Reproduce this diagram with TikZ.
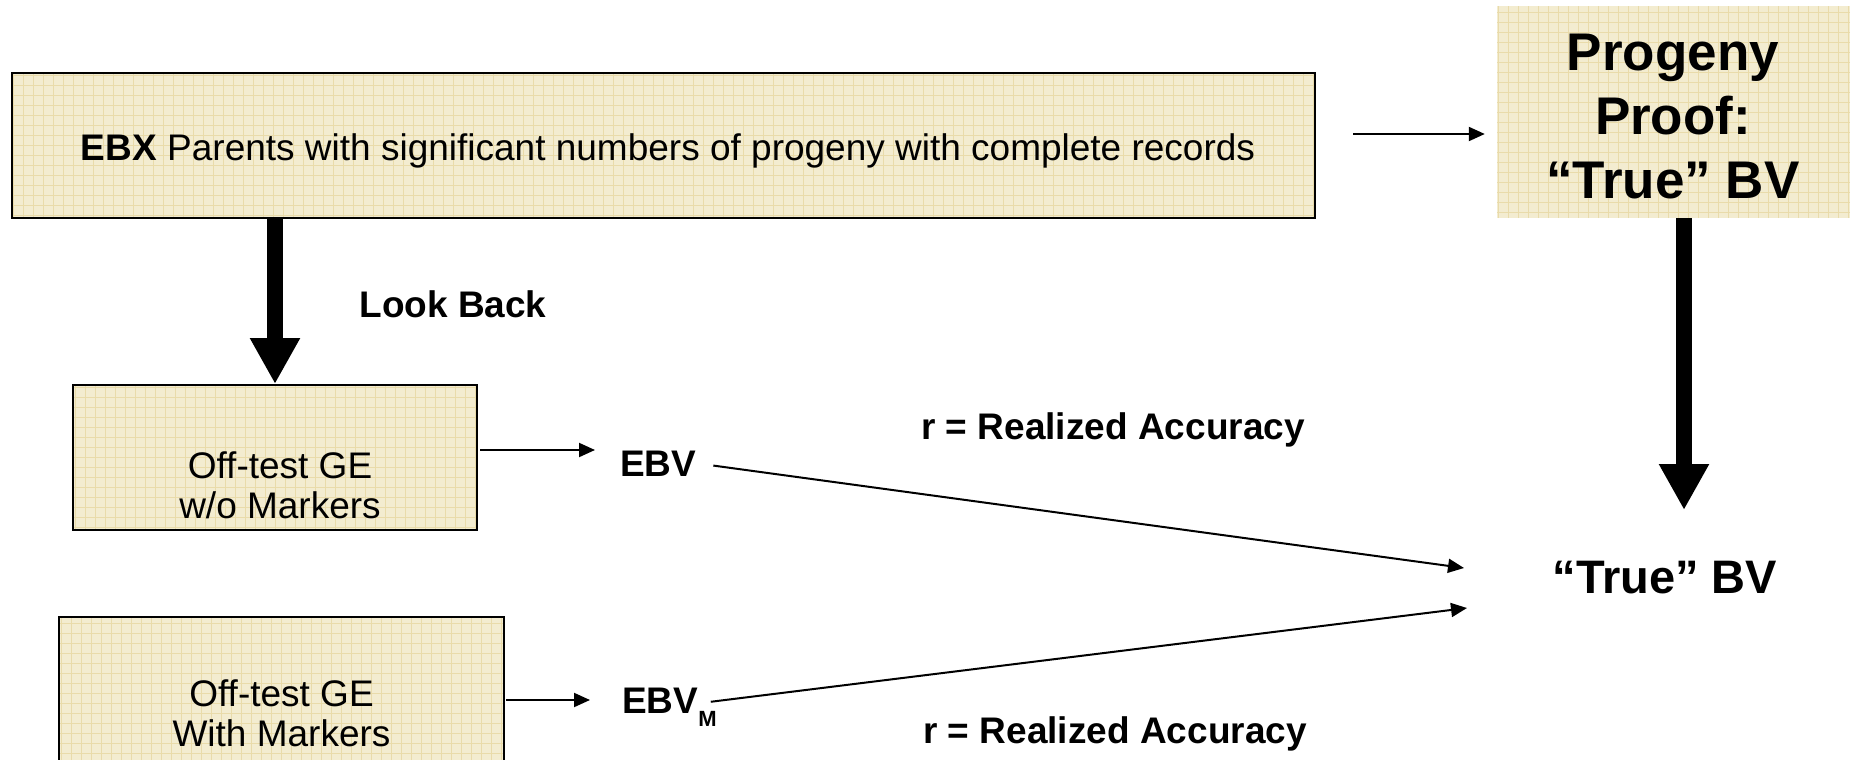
\documentclass[tikz,border=0pt]{standalone}
\usepackage{fontspec}
\setmainfont{Liberation Sans}
\usetikzlibrary{arrows.meta,calc}
\definecolor{boxfill}{RGB}{243,236,208}
\definecolor{gridc}{RGB}{233,219,170}
\begin{document}
\begin{tikzpicture}[x=1pt,y=-1pt,
  panel/.style={fill=boxfill, inner sep=0pt,
    path picture={\draw[gridc,line width=0.9pt] (path picture bounding box.south west) grid[step=10pt] (path picture bounding box.north east);}},
  framed/.style={draw=black, line width=2pt},
  lbl/.style={font=\bfseries\fontsize{37}{40}\selectfont, inner sep=0pt},
  boxtxt/.style={font=\fontsize{37}{40}\selectfont, inner sep=0pt, align=center},
  thinarrow/.style={line width=2pt, -{Triangle[length=16pt,width=14pt]}},
  fatarrow/.style={line width=16pt, -{Triangle[length=46pt,width=47pt]}}]
\useasboundingbox (0,0) rectangle (1850,760);

% boxes
\node[panel, framed, minimum width=1303pt, minimum height=145pt] (top) at (663.5,145.5) {};
\node[panel, minimum width=363pt, minimum height=212pt] (prog) at (1678.5,112) {};
\node[panel, framed, minimum width=404pt, minimum height=145pt] (b2) at (275,457.5) {};
\node[panel, framed, minimum width=445pt, minimum height=213pt] (b3) at (281.5,723.5) {};

% texts
\node[font=\fontsize{37}{40}\selectfont, inner sep=0pt, anchor=base] (topt) at (668,160)
  {\textbf{EBX} Parents with significant numbers of progeny with complete records};
\node[font=\bfseries\fontsize{53}{64}\selectfont, inner sep=0pt, align=center] (progt) at (1673,117)
  {Progeny\\Proof:\\“True” BV};
\node[boxtxt] (b2t) at (280,485) {Off-test GE\\w/o Markers};
\node[boxtxt] (b3t) at (281.5,713) {Off-test GE\\With Markers};
\node[lbl, anchor=base] (lb) at (453,317) {Look Back};
\node[lbl, anchor=base west] (ebv) at (620,476) {EBV};
\node[lbl, anchor=base west] (ebvm) at (622,713) {EBV\raisebox{-13pt}{\fontsize{22}{22}\selectfont M}};
\node[lbl, anchor=base] (r1) at (1113,439) {r = Realized Accuracy};
\node[lbl, anchor=base] (r2) at (1115,743) {r = Realized Accuracy};
\node[font=\bfseries\fontsize{47}{50}\selectfont, inner sep=0pt, anchor=base] (tbv) at (1665,593) {“True” BV};

% connector coordinates
\path (top.east) ++(37,-11.5) coordinate (s1);
\path (b2.east) ++(2,-7.5) coordinate (s2);
\path (b3.east) ++(1,-23.5) coordinate (s3);
\path (ebvm.east) ++(-6,-5) coordinate (s4);
\coordinate (ptip) at (1684,510);
\coordinate (t1) at (1464,568);
\coordinate (t2) at (1467,608);

% connectors
\draw[thinarrow, shorten >=12pt] (s1) -- (s1 -| prog.west);
\draw[fatarrow] (top.south -| b2.north) -- (b2.north);
\draw[fatarrow] (prog.south -| ptip) -- (ptip);
\draw[thinarrow, shorten >=25pt] (s2) -- (s2 -| ebv.west);
\draw[thinarrow, shorten >=32pt] (s3) -- (s3 -| ebvm.west);
\draw[thinarrow, shorten <=17pt] (ebv.east) -- (t1);
\draw[thinarrow] (s4) -- (t2);
\end{tikzpicture}
\end{document}
